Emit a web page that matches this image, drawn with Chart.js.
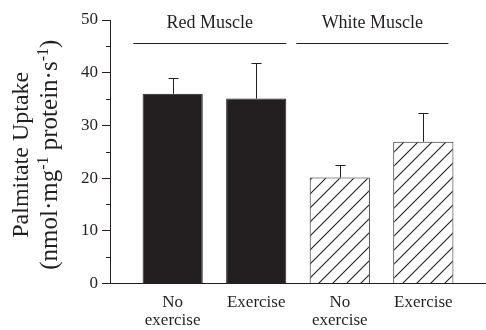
<!DOCTYPE html>
<html>
<head>
<meta charset="utf-8">
<script src="https://cdn.jsdelivr.net/npm/chart.js@4/dist/chart.umd.min.js"></script>
<style>
  html, body { margin: 0; padding: 0; background: #fff; }
  #wrap { width: 486px; height: 330px; }
</style>
</head>
<body>
<div id="wrap"><canvas id="chart"></canvas></div>
<script>
const categories = [["No", "exercise"], "Exercise", ["No", "exercise"], "Exercise"];
const uptake = [36.0, 35.1, 20.1, 26.9];
const uptakeSem = [2.9, 6.7, 2.4, 5.4];
const groupNames = ["Red Muscle", "White Muscle"];
const yTicks = [0, 10, 20, 30, 40, 50];
const yMinorTicks = [5, 15, 25, 35, 45];

const ink = "#231f20";
const serif = "\"Liberation Serif\", Tinos, \"Times New Roman\", \"DejaVu Serif\", serif";

function makeHatch() {
  const size = 14;
  const c = document.createElement("canvas");
  c.width = size;
  c.height = size;
  const g = c.getContext("2d");
  g.fillStyle = "#fff";
  g.fillRect(0, 0, size, size);
  g.strokeStyle = ink;
  g.lineWidth = 1.1;
  g.beginPath();
  g.moveTo(-1, size + 1);
  g.lineTo(size + 1, -1);
  g.moveTo(-1, 1);
  g.lineTo(1, -1);
  g.moveTo(size - 1, size + 1);
  g.lineTo(size + 1, size - 1);
  g.stroke();
  return g.createPattern(c, "repeat");
}
const hatch = makeHatch();

// error bars (upper only), minor ticks, group labels and y title
const extras = {
  id: "extras",
  afterDatasetsDraw(chart) {
    const ctx = chart.ctx;
    const y = chart.scales.y;
    const x = chart.scales.x;
    const meta = chart.getDatasetMeta(0);
    ctx.save();
    ctx.strokeStyle = ink;
    ctx.lineWidth = 1;
    meta.data.forEach((bar, i) => {
      const top = Math.round(y.getPixelForValue(uptake[i] + uptakeSem[i])) + 0.5;
      const bx = Math.round(bar.x) + 0.5;
      ctx.beginPath();
      ctx.moveTo(bx, bar.y);
      ctx.lineTo(bx, top);
      ctx.moveTo(bx - 5, top);
      ctx.lineTo(bx + 5, top);
      ctx.stroke();
    });

    // minor ticks
    yMinorTicks.forEach((v) => {
      const py = Math.round(y.getPixelForValue(v)) + 0.5;
      ctx.beginPath();
      ctx.moveTo(chart.chartArea.left - 4, py);
      ctx.lineTo(chart.chartArea.left, py);
      ctx.stroke();
    });

    // group labels with rules
    const spans = [[-0.47, 1.36], [1.48, 3.3]];
    ctx.fillStyle = ink;
    ctx.font = "18px " + serif;
    ctx.textAlign = "center";
    ctx.textBaseline = "alphabetic";
    spans.forEach((s, i) => {
      const x0 = x.getPixelForValue(s[0]);
      const x1 = x.getPixelForValue(s[1]);
      const ly = chart.chartArea.top + 23.5;
      ctx.beginPath();
      ctx.moveTo(x0, ly);
      ctx.lineTo(x1, ly);
      ctx.stroke();
      ctx.fillText(groupNames[i], (x0 + x1) / 2, chart.chartArea.top + 8);
    });

    // y axis title, two lines with superscripts
    const cy = (chart.chartArea.top + chart.chartArea.bottom) / 2 + 3;
    ctx.translate(0, cy);
    ctx.rotate(-Math.PI / 2);
    ctx.font = "24px " + serif;
    ctx.textAlign = "center";
    ctx.fillText("Palmitate Uptake", 0, 28);
    const parts = [
      ["(nmol\u00b7mg", false], ["-1", true], [" protein\u00b7s", false], ["-1", true], [")", false],
    ];
    const fontOf = (sup) => (sup ? "16px " : "25px ") + serif;
    let total = 0;
    parts.forEach(([t, sup]) => { ctx.font = fontOf(sup); total += ctx.measureText(t).width; });
    let px = -total / 2;
    ctx.textAlign = "left";
    parts.forEach(([t, sup]) => {
      ctx.font = fontOf(sup);
      ctx.fillText(t, px, sup ? 48 : 57);
      px += ctx.measureText(t).width;
    });
    ctx.restore();
  },
};

new Chart(document.getElementById("chart"), {
  type: "bar",
  data: {
    datasets: [
      {
        data: uptake.map((v, i) => ({ x: i, y: v })),
        backgroundColor: [ink, ink, hatch, hatch],
        borderColor: ink,
        borderWidth: 1,
        barPercentage: 0.9,
        categoryPercentage: 0.8,
      },
    ],
  },
  options: {
    responsive: true,
    maintainAspectRatio: false,
    animation: false,
    layout: { padding: { top: 20, right: 0, left: 0, bottom: 0 } },
    plugins: { legend: { display: false }, tooltip: { enabled: false } },
    scales: {
      x: {
        type: "linear",
        offset: false,
        min: -0.75,
        max: 3.75,
        afterFit: (s) => { s.height = 46.5; },
        afterBuildTicks: (s) => { s.ticks = categories.map((_, i) => ({ value: i })); },
        grid: { display: false },
        border: { display: true, color: ink, width: 1 },
        ticks: {
          color: ink,
          padding: 2,
          maxRotation: 0,
          autoSkip: false,
          font: { family: serif, size: 17, lineHeight: 1.05 },
          callback: (v) => categories[v],
        },
      },
      y: {
        min: 0,
        max: 50,
        afterFit: (s) => { s.width = 110; },
        afterBuildTicks: (s) => { s.ticks = yTicks.map((v) => ({ value: v })); },
        grid: { drawOnChartArea: false, drawTicks: true, tickLength: 8, color: ink },
        border: { display: true, color: ink, width: 1 },
        ticks: {
          color: ink,
          padding: 4,
          font: { family: serif, size: 17 },
        },
      },
    },
  },
  plugins: [extras],
});
</script>
</body>
</html>
